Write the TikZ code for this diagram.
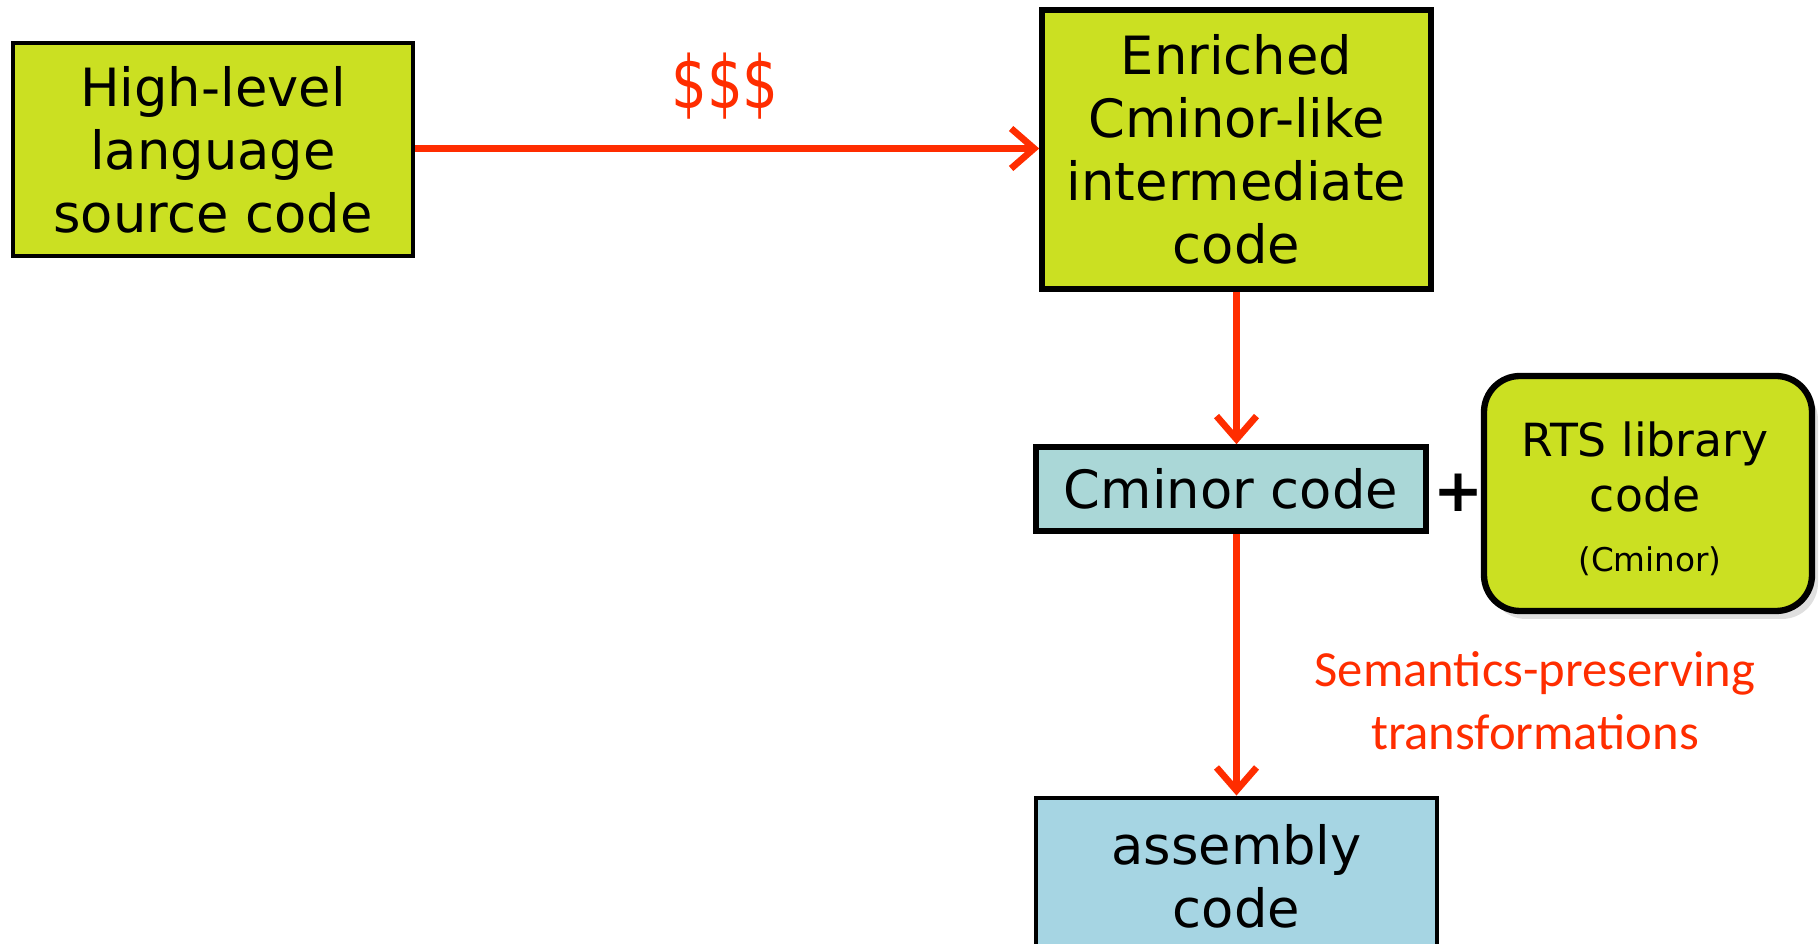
\documentclass[tikz,border=0pt]{standalone}
\usepackage{fontspec}
\setmainfont{DejaVu Sans}
\newfontfamily\calfont{Carlito}
\usetikzlibrary{arrows.meta,shadows,calc}

\definecolor{limefill}{RGB}{203,224,34}
\definecolor{tealfill}{RGB}{170,215,215}
\definecolor{bluefill}{RGB}{166,213,227}
\definecolor{flowred}{RGB}{255,45,0}

\tikzset{
  box/.style={draw=black, line width=1.3pt, align=center, inner sep=0pt,
    font=\fontsize{15}{17.9}\selectfont},
  limebox/.style={box, fill=limefill},
  flow/.style={draw=flowred, line width=1.9pt,
    -{Straight Barb[length=2.3mm,width=4mm,line width=1.9pt]}},
  note/.style={text=flowred, align=center, inner sep=0pt},
}

\begin{document}
\begin{tikzpicture}[x=0.1mm,y=-0.1mm]
  \useasboundingbox (0,0) rectangle (1819,944);
  \clip (0,0) rectangle (1819,944);

  % source and intermediate forms
  \node[limebox, minimum width=40mm, minimum height=21.3mm] (src) at (213,149.5)
    {High-level\\language\\source code};
  \node[limebox, line width=1.6pt, minimum width=38.9mm, minimum height=27.9mm] (enr) at (1236.5,149.5)
    {Enriched\\Cminor-like\\intermediate\\code};
  \node[box, fill=tealfill, line width=1.6pt, minimum width=39mm, minimum height=8.4mm] (cmin) at (1231,489)
    {Cminor code};
  \node[limebox, line width=1.8pt, rounded corners=3.6mm, minimum width=32.8mm, minimum height=23.5mm,
    drop shadow={opacity=0.25, shadow xshift=0.6mm, shadow yshift=-0.8mm}] (rts) at (1648,493.5) {};
  \node[font=\fontsize{13}{15.5}\selectfont, align=center, inner sep=0pt] (rtslbl) at (1645,467)
    {RTS library\\code};
  \node[font=\fontsize{9.3}{11}\selectfont, inner sep=0pt] (rtssub) at (1650,561) {(Cminor)};
  \node[box, fill=bluefill, line width=1.4pt, minimum width=40.1mm, minimum height=15.6mm] (asm) at (1236.5,876)
    {assembly\\code};

  % plus sign joining the runtime library
  \node[font=\fontsize{17}{20}\bfseries\selectfont, inner sep=0pt] (plus) at (1459,493) {+};

  % translation steps
  \draw[flow] (src.east |- 0,148.5) -- (enr.west |- 0,148.5);
  \draw[flow] (enr.south) -- (enr.south |- cmin.north);
  \draw[flow] (enr.south |- cmin.south) -- (enr.south |- asm.north);

  % annotations
  \node[note, font=\fontsize{16}{19}\selectfont] (cost) at (725,86) {\scalebox{1}[1.3]{\$\$\$}};
  \node[note, font=\calfont\fontsize{14.4}{17.9}\selectfont] (sem) at (1535,701)
    {Semantics-preserving\\transformations};
\end{tikzpicture}
\end{document}
